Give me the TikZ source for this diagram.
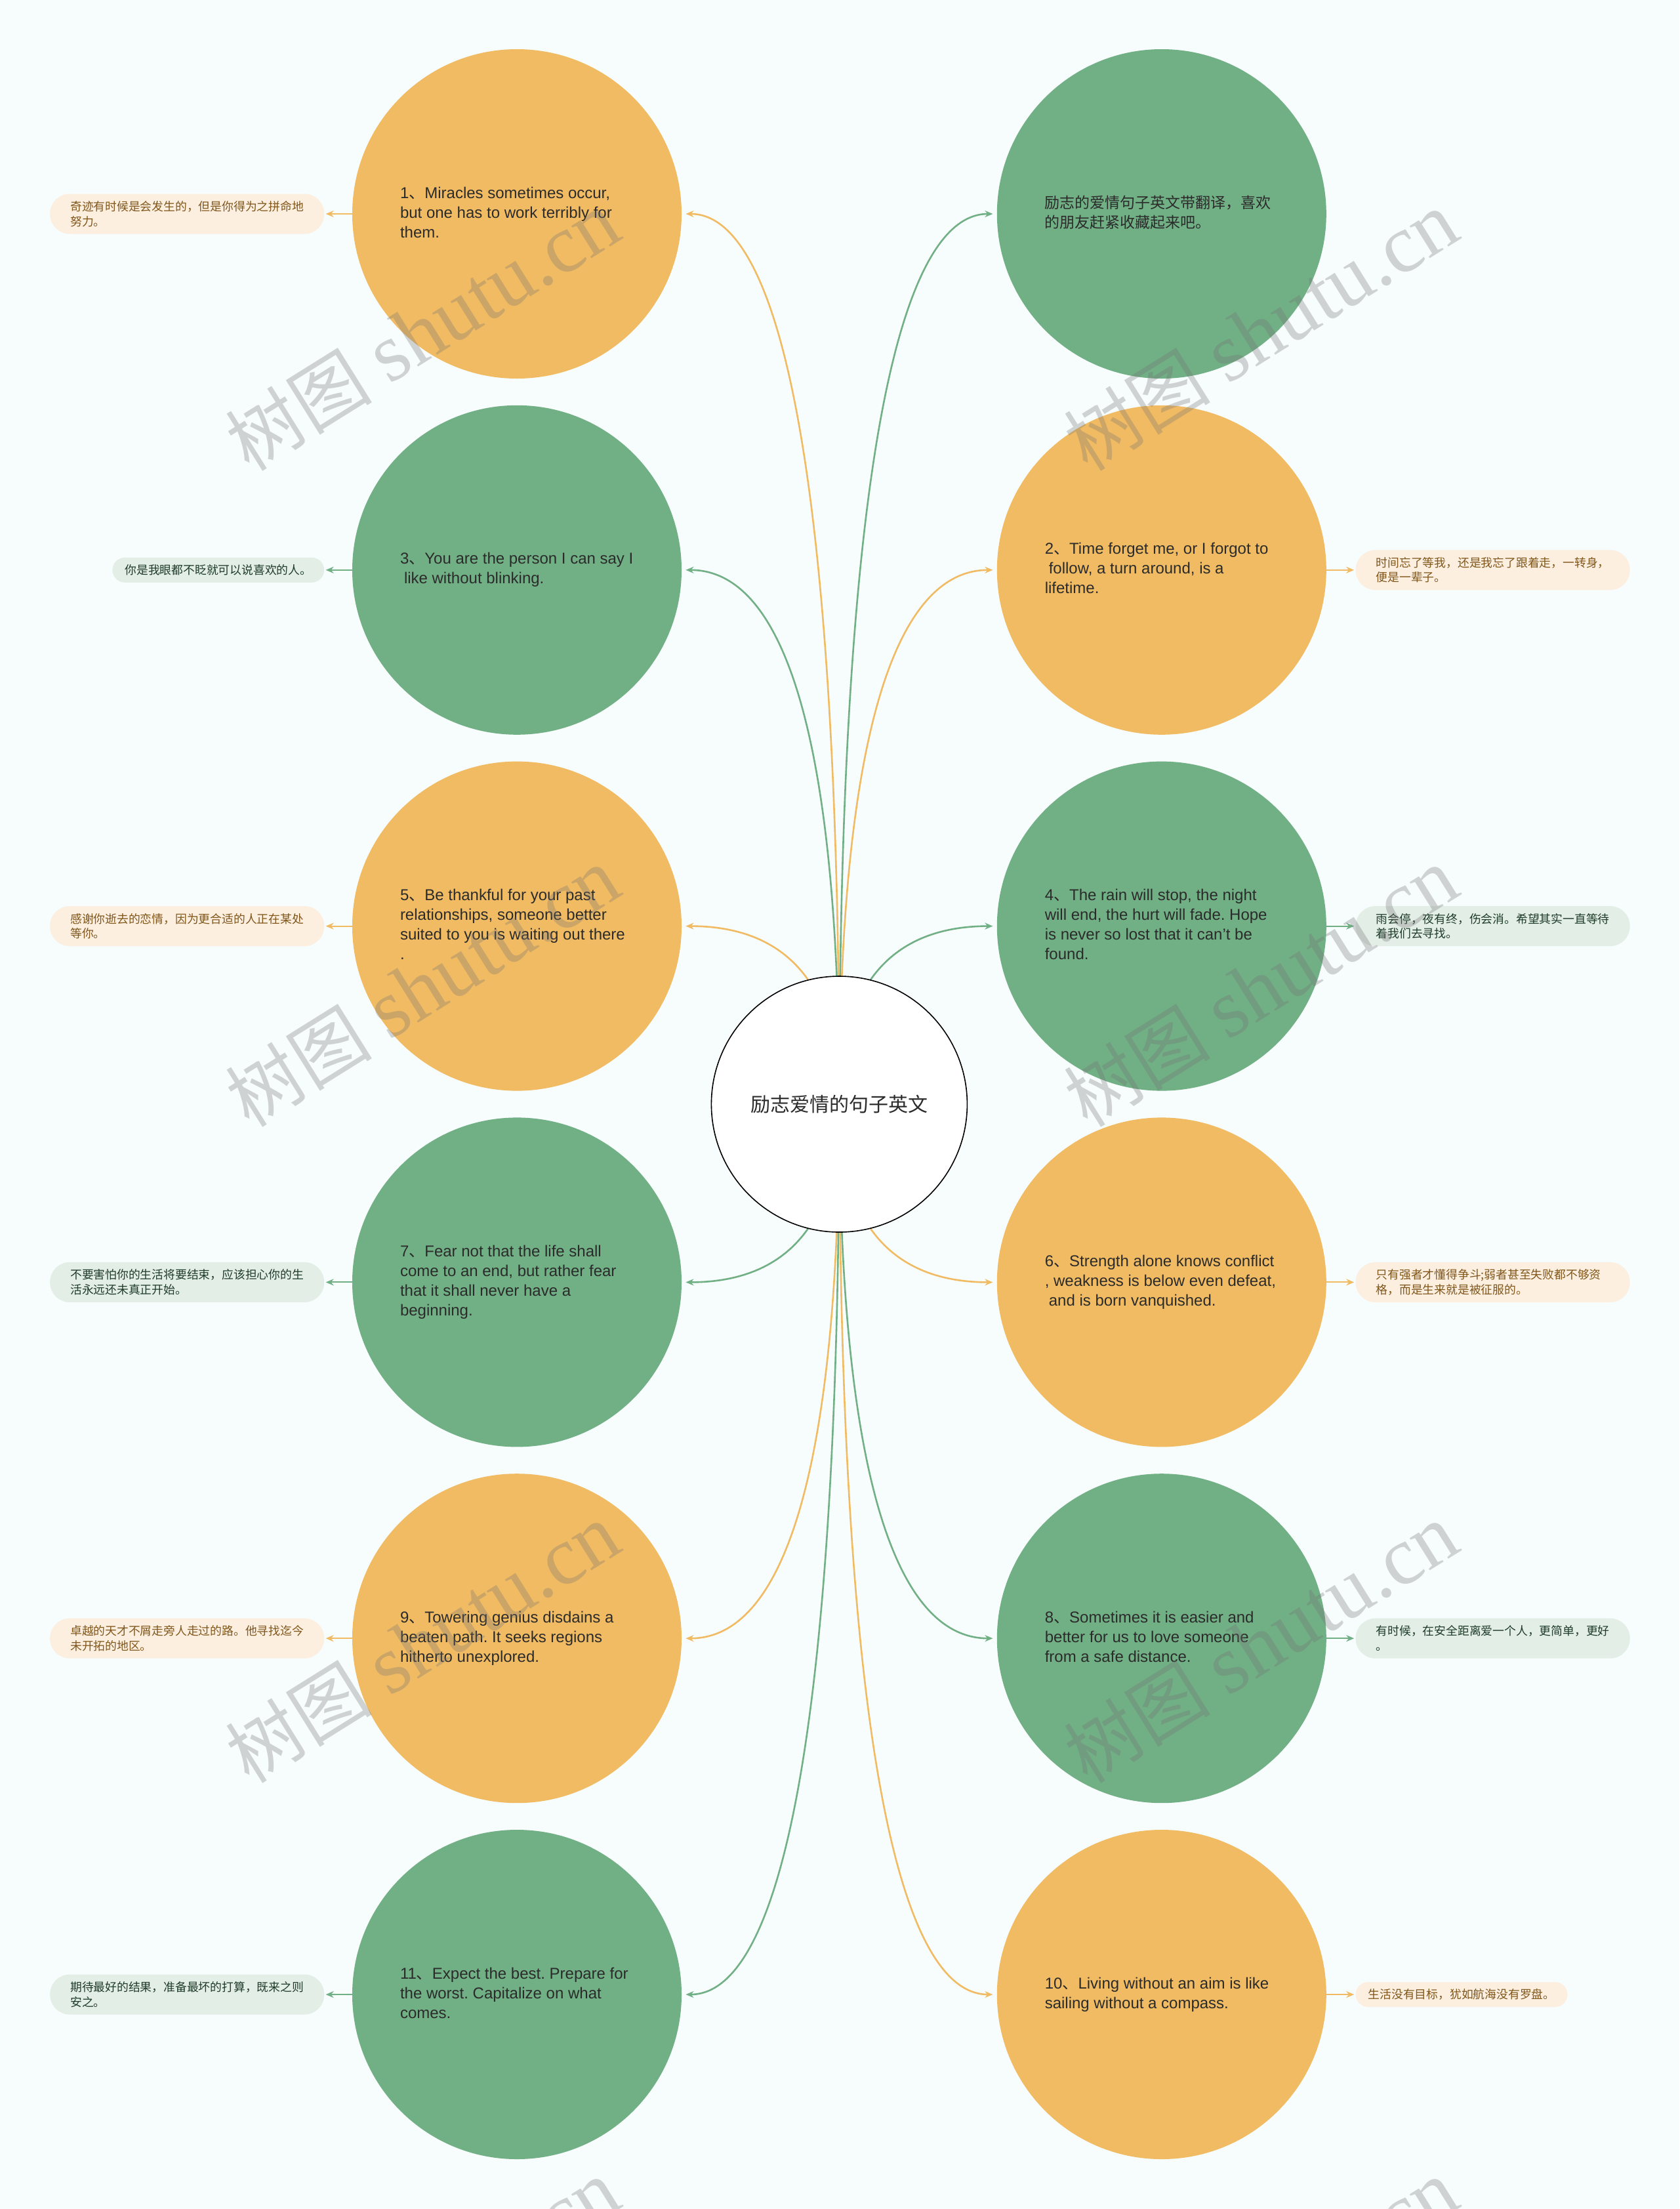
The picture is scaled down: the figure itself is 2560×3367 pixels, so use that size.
\documentclass[tikz,border=0pt]{standalone}
\usepackage{fontspec}
\setmainfont{Liberation Sans}
\newfontfamily\cjk{Noto Sans CJK SC}
\newfontfamily\wmserif{Liberation Serif}
\usetikzlibrary{positioning, arrows.meta, calc}

\definecolor{bgpaper}{HTML}{F7FCFC}
\definecolor{amber}{HTML}{F0BB63}
\definecolor{sage}{HTML}{71AF85}
\definecolor{amberink}{HTML}{80561A}
\definecolor{sageink}{HTML}{1F3B29}
\definecolor{amberpill}{HTML}{FCEFE0}
\definecolor{sagepill}{HTML}{E3EEE6}
\definecolor{bodyink}{HTML}{2B2B2B}

\newcommand{\dun}{{\cjk 、}}
\newcommand{\qlines}[1]{\makebox[178pt][l]{\begin{tabular}{@{}l@{}}#1\end{tabular}}}
\newcommand{\wmark}{{\cjk\fontsize{56pt}{60pt}\selectfont 树图}\hspace{14pt}{\wmserif\fontsize{63pt}{66pt}\selectfont shutu.cn}}
\frenchspacing

\begin{document}
\begin{tikzpicture}[x=0.5pt, y=-0.5pt,
  >={Stealth[length=6pt, width=5pt]},
  quote/.style  = {circle, minimum size=251pt, inner sep=0pt,
                   text=bodyink, font=\fontsize{12pt}{15pt}\selectfont},
  amberq/.style = {quote, fill=amber},
  sageq/.style  = {quote, fill=sage},
  tag/.style    = {rounded corners=15pt, minimum height=30.5pt, inner xsep=15.5pt, inner ysep=3pt,
                   text width=178pt, align=left, font=\cjk\fontsize{8.9pt}{11.3pt}\selectfont},
  tagone/.style = {rounded corners=9.5pt, minimum height=19pt, inner xsep=9.5pt, inner ysep=2pt,
                   font=\cjk\fontsize{8.9pt}{11.3pt}\selectfont},
  ambert/.style = {fill=amberpill, text=amberink},
  saget/.style  = {fill=sagepill, text=sageink},
  hub/.style    = {circle, draw=black, line width=0.8pt, fill=white, minimum size=195pt,
                   text=bodyink, font=\cjk\fontsize{15pt}{18pt}\selectfont},
  edgeline/.style = {->, draw=#1, line width=1.3pt, shorten >=3pt},
  tagline/.style  = {->, draw=#1, line width=1pt, shorten >=1pt},
  wmtext/.style = {rotate=32, text=black!55, opacity=0.3, inner sep=0pt},
  branch/.style = {to path={.. controls ($(\tikztostart)!2/3!(\tikztostart |- \tikztotarget)$)
                   and ($(\tikztotarget)!2/3!(\tikztostart |- \tikztotarget)$) .. (\tikztotarget)}},
]
  \path[use as bounding box, clip] (0,0) rectangle (2560,3367);
  \fill[bgpaper] (0,0) rectangle (2560,3367);

  % left column
  \node[amberq] (s1) at (788,326) {\qlines{1\dun Miracles sometimes occur,\\but one has to work terribly for\\them.}};
  \node[sageq,  below=20pt of s1] (s3) {\qlines{3\dun You are the person I can say I\\\hspace{3pt}like without blinking.}};
  \node[amberq, below=20pt of s3] (s5) {\qlines{5\dun Be thankful for your past\\relationships, someone better\\suited to you is waiting out there\\.}};
  \node[sageq,  below=20pt of s5] (s7) {\qlines{7\dun Fear not that the life shall\\come to an end, but rather fear\\that it shall never have a\\beginning.}};
  \node[amberq, below=20pt of s7] (s9) {\qlines{9\dun Towering genius disdains a\\beaten path. It seeks regions\\hitherto unexplored.}};
  \node[sageq,  below=20pt of s9] (s11) {\qlines{11\dun Expect the best. Prepare for\\the worst. Capitalize on what\\comes.}};

  % right column
  \node[sageq,  right=240pt of s1] (s0) {\qlines{\cjk\fontsize{11.5pt}{15pt}\selectfont 励志的爱情句子英文带翻译，喜欢\\\cjk\fontsize{11.5pt}{15pt}\selectfont 的朋友赶紧收藏起来吧。}};
  \node[amberq, below=20pt of s0] (s2) {\qlines{2\dun Time forget me, or I forgot to\\\hspace{3pt}follow, a turn around, is a\\lifetime.}};
  \node[sageq,  below=20pt of s2] (s4) {\qlines{4\dun The rain will stop, the night\\will end, the hurt will fade. Hope\\is never so lost that it can't be\\found.}};
  \node[amberq, below=20pt of s4] (s6) {\qlines{6\dun Strength alone knows conflict\\, weakness is below even defeat,\\\hspace{3pt}and is born vanquished.}};
  \node[sageq,  below=20pt of s6] (s8) {\qlines{8\dun Sometimes it is easier and\\better for us to love someone\\from a safe distance.}};
  \node[amberq, below=20pt of s8] (s10) {\qlines{10\dun Living without an aim is like\\sailing without a compass.}};

  % translations
  \node[tag, ambert, left=21pt of s1] (t1) {奇迹有时候是会发生的，但是你得为之拼命地\\努力。};
  \node[tagone, saget, left=21pt of s3] (t3) {你是我眼都不眨就可以说喜欢的人。};
  \node[tag, ambert, left=21pt of s5] (t5) {感谢你逝去的恋情，因为更合适的人正在某处\\等你。};
  \node[tag, saget, left=21pt of s7] (t7) {不要害怕你的生活将要结束，应该担心你的生\\活永远还未真正开始。};
  \node[tag, ambert, left=21pt of s9] (t9) {卓越的天才不屑走旁人走过的路。他寻找迄今\\未开拓的地区。};
  \node[tag, saget, left=21pt of s11] (t11) {期待最好的结果，准备最坏的打算，既来之则\\安之。};
  \node[tag, ambert, right=22pt of s2] (t2) {时间忘了等我，还是我忘了跟着走，一转身，\\便是一辈子。};
  \node[tag, saget, right=22pt of s4] (t4) {雨会停，夜有终，伤会消。希望其实一直等待\\着我们去寻找。};
  \node[tag, ambert, right=22pt of s6] (t6) {只有强者才懂得争斗;弱者甚至失败都不够资\\格，而是生来就是被征服的。};
  \node[tag, saget, right=22pt of s8] (t8) {有时候，在安全距离爱一个人，更简单，更好\\。};
  \node[tagone, ambert, right=22pt of s10] (t10) {生活没有目标，犹如航海没有罗盘。};

  % branches from the hub
  \coordinate (ctr) at ($(s5)!0.5!(s6)$);
  \foreach \q/\k in {s1/amber, s3/sage, s5/amber, s7/sage, s9/amber, s11/sage}
    \draw[edgeline=\k] (ctr) to[branch] (\q.east);
  \foreach \q/\k in {s0/sage, s2/amber, s4/sage, s6/amber, s8/sage, s10/amber}
    \draw[edgeline=\k] (ctr) to[branch] (\q.west);
  \foreach \q/\t/\k in {s1/t1/amber, s3/t3/sage, s5/t5/amber, s7/t7/sage, s9/t9/amber, s11/t11/sage}
    \draw[tagline=\k] (\q.west) -- (\t.east);
  \foreach \q/\t/\k in {s2/t2/amber, s4/t4/sage, s6/t6/amber, s8/t8/sage, s10/t10/amber}
    \draw[tagline=\k] (\q.east) -- (\t.west);

  \node[hub] (hub) at (ctr) {励志爱情的句子英文};

  % watermark
  \foreach \wy in {505,1505,2505,3505} {
    \node[wmtext] (wml\wy) at (644,\wy) {\wmark};
    \node[wmtext] (wmr\wy) at (1922,\wy) {\wmark};
  }
\end{tikzpicture}
\end{document}
